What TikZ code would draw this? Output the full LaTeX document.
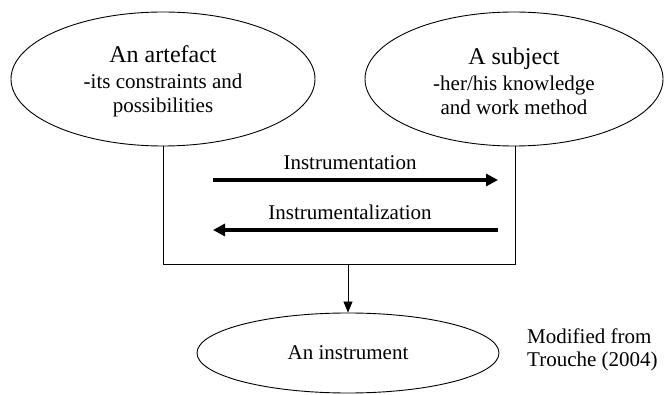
\documentclass[tikz,border=0pt]{standalone}
\usepackage{fontspec}
\setmainfont{Liberation Serif}
\usetikzlibrary{shapes.geometric,arrows.meta}
\begin{document}
\begin{tikzpicture}[x=1pt,y=-1pt,
  ell/.style={draw, ellipse, line width=0.9pt, inner sep=0pt, align=center, font=\fontsize{21}{23}\selectfont},
  txt/.style={inner sep=0pt, font=\fontsize{21}{23}\selectfont},
  thinline/.style={line width=0.9pt},
  bigarrow/.style={line width=4pt, -{Triangle[length=12pt,width=12pt]}},
  downarrow/.style={line width=0.9pt, -{Triangle[length=11pt,width=9pt]}}]
\useasboundingbox (0,0) rectangle (664,395);
\node[ell, minimum width=304pt, minimum height=134pt] (art) at (163,79)
  {\rule{0pt}{21pt}{\fontsize{24}{26}\selectfont An artefact}\\[3pt]-its constraints and\\[1pt]possibilities};
\node[ell, minimum width=298pt, minimum height=134pt] (subj) at (514,79)
  {\rule{0pt}{21pt}{\fontsize{24}{26}\selectfont A subject}\\[3pt]-her/his knowledge\\[1pt]and work method};
\node[ell, minimum width=302pt, minimum height=80pt] (inst) at (348,353) {An instrument};
\coordinate (bl) at (163,264);
\coordinate (br) at (515,264);
\coordinate (bm) at (348,264);
\draw[thinline] (art.south) -- (bl) -- (br) -- (subj.south -| br);
\draw[downarrow] (bm) -- (inst.north);
\coordinate (a1s) at (213,180);
\coordinate (a1e) at (498,180);
\coordinate (a2s) at (498,230);
\coordinate (a2e) at (213,230);
\draw[bigarrow] (a1s) -- (a1e);
\draw[bigarrow] (a2s) -- (a2e);
\node[txt, anchor=base] (l1) at (350,170) {Instrumentation};
\node[txt, anchor=base] (l2) at (350,220) {Instrumentalization};
\node[txt, anchor=west, align=left] (src) at (527,350) {Modified from\\Trouche (2004)};
\end{tikzpicture}
\end{document}
